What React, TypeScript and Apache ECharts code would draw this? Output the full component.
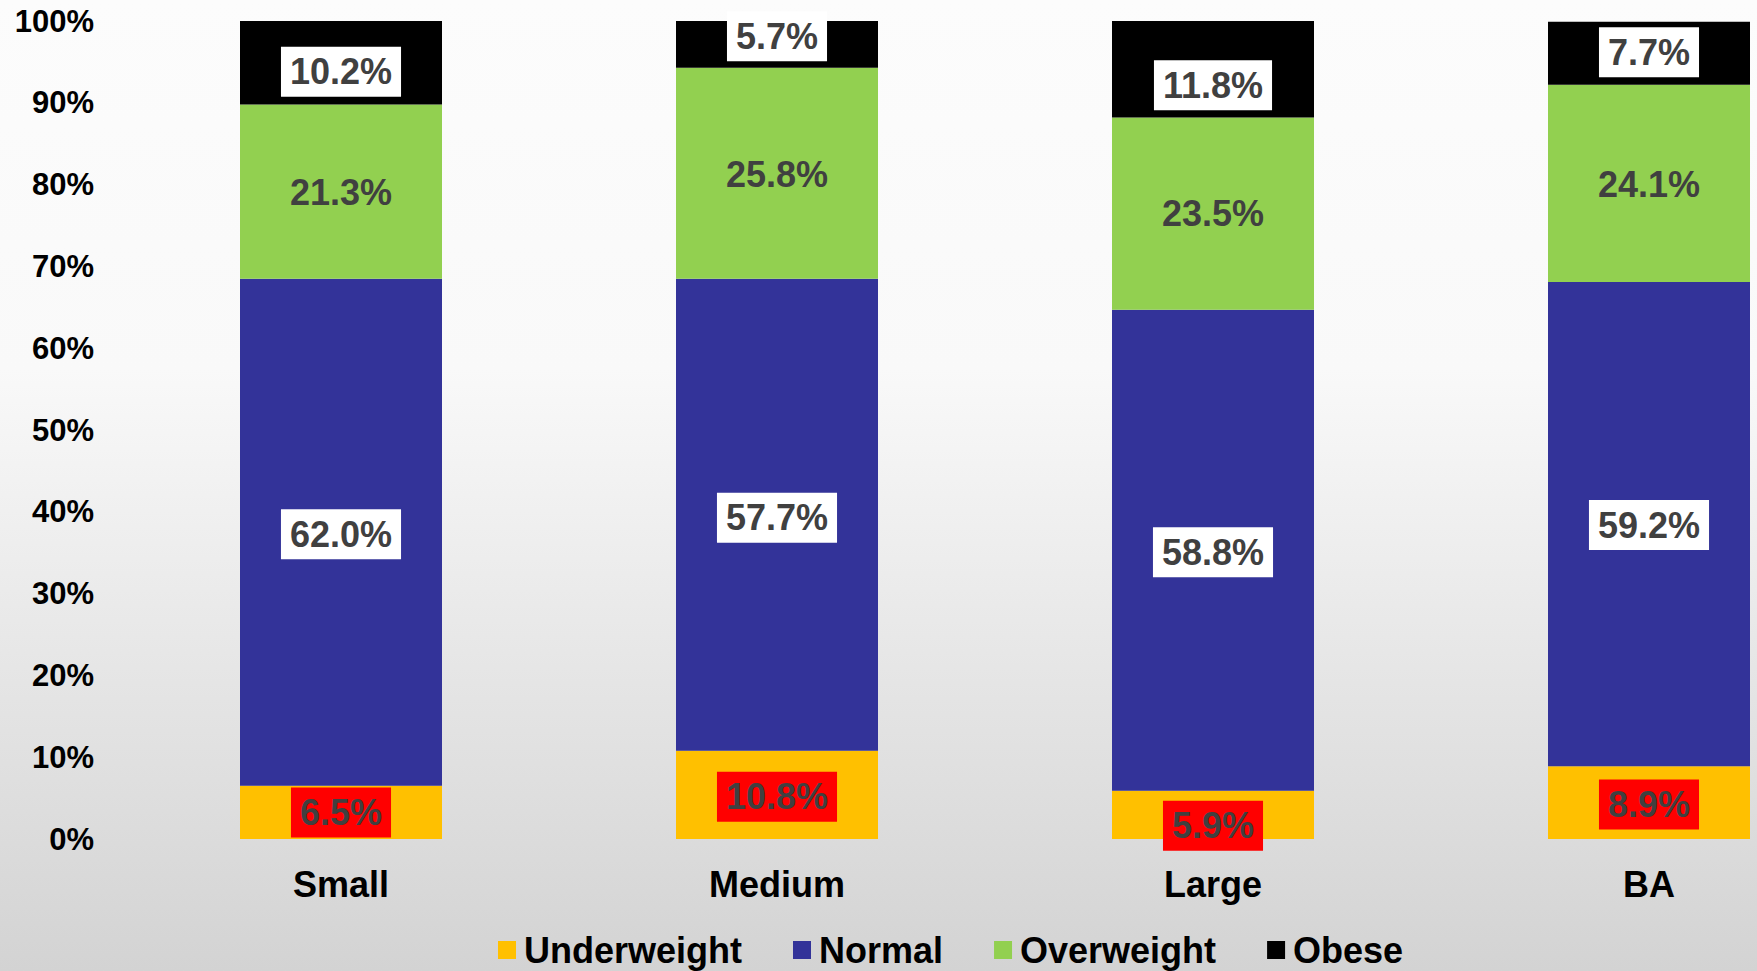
import React, { useEffect, useRef } from "react";
import * as echarts from "echarts";

const categories = ["Small", "Medium", "Large", "BA"];
const seriesNames = ["Underweight", "Normal", "Overweight", "Obese"];
const underweight = [6.5, 10.8, 5.9, 8.9];
const normal = [62.0, 57.7, 58.8, 59.2];
const overweight = [21.3, 25.8, 23.5, 24.1];
const obese = [10.2, 5.7, 11.8, 7.7];
const yTicks = [0, 10, 20, 30, 40, 50, 60, 70, 80, 90, 100];

// label nudges (styling, px)
const underLabelShift = [0, 2, 11, 2];
const normalLabelShift = [2, 3, 2, 1];
const overLabelShift = [1, 1, 0, 1];
const obeseLabelShift = [9, -8, 16, -1];

const FONT = "'Liberation Sans', Arial, sans-serif";

export default function App() {
  const ref = useRef<HTMLDivElement>(null);
  useEffect(() => {
    if (!ref.current) return;
    const chart = echarts.init(ref.current, null, { renderer: "svg" });
    const labelBase = {
      show: true,
      position: "inside",
      fontFamily: FONT,
      fontWeight: "bold",
      fontSize: 36,
      lineHeight: 36,
      color: "#404040",
      formatter: (p: any) => Number(p.value).toFixed(1) + "%",
    };
    const mk = (name: string, vals: number[], color: string, shifts: number[], bg: string | null) => ({
      name,
      type: "bar",
      stack: "total",
      barWidth: 202,
      itemStyle: { color },
      label: bg ? { ...labelBase, backgroundColor: bg, padding: [7, 9] } : { ...labelBase },
      data: vals.map((v, i) => ({ value: v, label: { offset: [0, shifts[i]] } })),
    });
    chart.setOption({
      animation: false,
      backgroundColor: new echarts.graphic.LinearGradient(0, 0, 0, 1, [
        { offset: 0, color: "#fcfcfc" },
        { offset: 0.38, color: "#f9f9f9" },
        { offset: 0.72, color: "#e4e4e4" },
        { offset: 1, color: "#d3d3d3" },
      ]),
      grid: { left: 123, top: 21, width: 1744, height: 818, containLabel: false, outerBoundsMode: "none" },
      legend: {
        data: seriesNames,
        left: 493,
        top: 927,
        itemWidth: 18,
        itemHeight: 18,
        itemGap: 51,
        icon: "rect",
        textStyle: { fontFamily: FONT, fontWeight: "bold", fontSize: 36, lineHeight: 36, color: "#000", padding: [0, 0, 0, 3] },
      },
      xAxis: {
        type: "category",
        data: categories,
        axisLine: { show: false },
        axisTick: { show: false },
        axisLabel: { fontFamily: FONT, fontWeight: "bold", fontSize: 36, lineHeight: 36, color: "#000", margin: 27 },
      },
      yAxis: {
        type: "value",
        min: yTicks[0],
        max: yTicks[yTicks.length - 1],
        interval: 10,
        splitLine: { show: false },
        axisLine: { show: false },
        axisTick: { show: false },
        axisLabel: { fontFamily: FONT, fontWeight: "bold", fontSize: 31, color: "#000", margin: 29, formatter: "{value}%" },
      },
      series: [
        mk(seriesNames[0], underweight, "#FFC000", underLabelShift, "#FF0000"),
        mk(seriesNames[1], normal, "#333399", normalLabelShift, "#FFFFFF"),
        mk(seriesNames[2], overweight, "#92D050", overLabelShift, null),
        mk(seriesNames[3], obese, "#000000", obeseLabelShift, "#FFFFFF"),
      ],
    });
    return () => chart.dispose();
  }, []);
  return <div ref={ref} style={{ position: "absolute", left: 0, top: 0, width: 1757, height: 971 }} />;
}
